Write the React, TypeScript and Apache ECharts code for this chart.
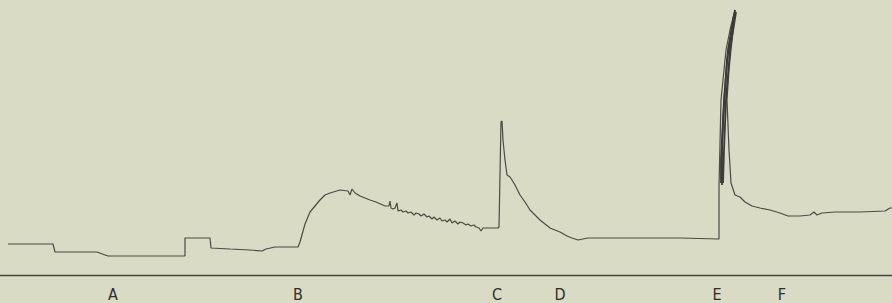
import React, { useEffect, useRef } from "react";
import * as echarts from "echarts";

// Trace height above the baseline (arbitrary units) against time (arbitrary units)
const traceX = [
  8, 53, 55, 97, 108, 185, 185, 210, 211, 230, 250, 262, 266, 275, 298,
  300, 305, 310, 315, 320, 325, 330, 340, 348, 350, 352, 355, 360, 370, 376, 385,
  389, 390, 391, 393, 395, 397, 398, 401, 403, 406, 408, 411, 414, 416, 419, 421,
  424, 427, 429, 432, 434, 437, 440, 442, 445, 447, 450, 452, 455, 458, 460, 463,
  466, 468, 471, 474, 476, 479, 481, 483, 490, 498,
  499, 501, 502, 503, 505, 507, 510, 512, 515, 520, 525, 530, 540, 550, 560, 567,
  572, 578, 583, 588, 620, 680, 718,
  719, 719, 721, 726, 730, 735, 732, 729, 727, 729, 731, 735, 740, 745, 752, 760,
  770, 780, 788, 800, 810, 814, 817, 822, 835, 860, 885, 890, 892,
];
const traceY = [
  31, 31, 23, 23, 19, 19, 37, 37, 27, 26, 25, 24, 26, 28, 28,
  33, 51, 63, 69, 75, 80, 82, 85, 84, 80, 86, 82, 79, 75, 73, 69,
  69, 74, 67, 66, 67, 72, 64, 65, 63, 64, 62, 63, 60, 62, 61, 59,
  61, 58, 59, 56, 58, 55, 57, 54, 55, 53, 56, 52, 54, 51, 53, 52,
  50, 51, 49, 50, 48, 47, 44, 47, 47, 47,
  48, 153, 154, 135, 115, 100, 98, 95, 90, 80, 73, 65, 55, 47, 43, 39,
  37, 35, 36, 37, 37, 37, 36,
  36, 88, 175, 225, 245, 265, 235, 205, 175, 125, 92, 80, 78, 73, 69, 67,
  65, 62, 59, 59, 60, 63, 60, 62, 63, 63, 64, 67, 67,
];

// Repeated pen strokes at the tall E response
const strokeAX = [735, 728, 724, 722, 722];
const strokeAY = [265, 225, 175, 125, 90];
const strokeBX = [736, 730, 726, 724, 723];
const strokeBY = [263, 225, 175, 125, 92];
const strokeCX = [734, 727, 723, 721, 721];
const strokeCY = [260, 215, 155, 115, 92];

// Event markers along the time axis
const markerTimes = [113, 298, 497, 560, 717, 782];
const markerNames = ["A", "B", "C", "D", "E", "F"];

const zip = (xs: number[], ys: number[]) => xs.map((x, i) => [x, ys[i]]);

export default function App() {
  const ref = useRef<HTMLDivElement>(null);
  useEffect(() => {
    if (!ref.current) return;
    const chart = echarts.init(ref.current, undefined, { renderer: "svg" });
    const lineStyle = { color: "#4a4a48", width: 1.2 };
    const strokeStyle = { color: "#3a3a38", width: 1.8 };
    const mk = (name: string, data: number[][], ls: any) => ({
      type: "line",
      name,
      data,
      showSymbol: false,
      symbol: "none",
      lineStyle: ls,
      clip: false,
      silent: true,
    });
    chart.setOption({
      animation: false,
      backgroundColor: "#d9dbc4",
      grid: { left: 0, right: 0, top: 0, bottom: 28, outerBoundsMode: "none" },
      xAxis: {
        type: "value",
        min: 0,
        max: 892,
        axisLine: { show: true, onZero: false, lineStyle: { color: "#454543", width: 1.4 } },
        axisTick: { show: false },
        splitLine: { show: false },
        axisLabel: {
          customValues: markerTimes,
          formatter: (v: number) => markerNames[markerTimes.indexOf(v)] ?? "",
          margin: 11,
          color: "#2e2e2c",
          fontSize: 16,
          fontFamily: "'DejaVu Sans Condensed', 'DejaVu Sans', sans-serif",
          fontWeight: "normal",
        },
      },
      yAxis: {
        type: "value",
        min: 0,
        max: 275,
        show: false,
        splitLine: { show: false },
      },
      series: [
        mk("trace", zip(traceX, traceY), lineStyle),
        mk("strokeA", zip(strokeAX, strokeAY), strokeStyle),
        mk("strokeB", zip(strokeBX, strokeBY), strokeStyle),
        mk("strokeC", zip(strokeCX, strokeCY), strokeStyle),
      ],
    });
    return () => chart.dispose();
  }, []);
  return (
    <div
      ref={ref}
      style={{ position: "fixed", left: 0, top: 0, width: 892, height: 303 }}
    />
  );
}
